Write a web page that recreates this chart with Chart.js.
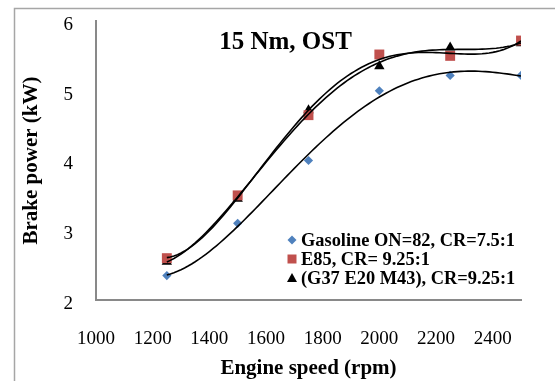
<!DOCTYPE html>
<html><head><meta charset="utf-8">
<script src="https://cdn.jsdelivr.net/npm/chart.js@4"></script>
<style>html,body{margin:0;padding:0;background:#fff}#wrap{width:555px;height:381px;position:relative}</style>
</head><body><div id="wrap"><canvas id="c"></canvas></div>
<script>
const engineSpeed = [1250, 1500, 1750, 2000, 2250, 2500];
const gasoline = [2.35, 3.1, 4.0, 5.0, 5.22, 5.22];
const e85 = [2.6, 3.5, 4.65, 5.52, 5.5, 5.72];
const g37 = [2.55, 3.45, 4.72, 5.35, 5.62, 5.68];
const seriesLabels = ['Gasoline ON=82, CR=7.5:1', 'E85, CR= 9.25:1', '(G37 E20 M43), CR=9.25:1'];
const seriesColors = ['#4F81BD', '#C0504D', '#000000'];
const seriesStyles = ['rectRot', 'rect', 'triangle'];
const xTicks = [1000, 1200, 1400, 1600, 1800, 2000, 2200, 2400];
const yTicks = [2, 3, 4, 5, 6];
const chartTitle = '15 Nm, OST';
const xTitle = 'Engine speed (rpm)';
const yTitle = 'Brake power (kW)';
const trendOrder = 4;

// Polynomial least-squares trendline, as in the original spreadsheet chart
function polyfit(xs, ys, order) {
  const cx = 1875, sx = 625;
  const n = order + 1;
  const A = Array.from({length: n}, () => new Array(n + 1).fill(0));
  xs.forEach((x, k) => {
    const t = (x - cx) / sx;
    for (let i = 0; i < n; i++) {
      for (let j = 0; j < n; j++) A[i][j] += Math.pow(t, i + j);
      A[i][n] += ys[k] * Math.pow(t, i);
    }
  });
  for (let i = 0; i < n; i++) {
    let p = i;
    for (let r = i + 1; r < n; r++) if (Math.abs(A[r][i]) > Math.abs(A[p][i])) p = r;
    [A[i], A[p]] = [A[p], A[i]];
    for (let r = 0; r < n; r++) {
      if (r === i) continue;
      const f = A[r][i] / A[i][i];
      for (let c = i; c <= n; c++) A[r][c] -= f * A[i][c];
    }
  }
  const coef = A.map((row, i) => row[n] / row[i]);
  return x => { const t = (x - cx) / sx; return coef.reduce((s, c, i) => s + c * Math.pow(t, i), 0); };
}
function trend(ys) {
  const f = polyfit(engineSpeed, ys, trendOrder);
  const pts = [];
  const x0 = engineSpeed[0], x1 = engineSpeed[engineSpeed.length - 1];
  for (let i = 0; i <= 100; i++) { const x = x0 + (x1 - x0) * i / 100; pts.push({x, y: f(x)}); }
  return pts;
}
const series = [gasoline, e85, g37];
const datasets = [];
series.forEach((ys, i) => {
  datasets.push({
    label: seriesLabels[i],
    data: engineSpeed.map((x, k) => ({x, y: ys[k]})),
    showLine: false,
    pointStyle: seriesStyles[i],
    pointRadius: [4.6, 7, 6][i],
    pointBackgroundColor: seriesColors[i],
    pointBorderColor: seriesColors[i],
    pointBorderWidth: 0,
    order: 2
  });
});
series.forEach((ys, i) => {
  datasets.push({
    label: 'trend' + i,
    data: trend(ys),
    showLine: true,
    pointRadius: 0,
    borderColor: '#000',
    borderWidth: 1.6,
    fill: false,
    order: 1
  });
});

const FONT = '"Liberation Serif", "Times New Roman", serif';
const deco = {
  id: 'deco',
  beforeDraw(chart) {
    const ctx = chart.ctx;
    ctx.save();
    ctx.fillStyle = '#fff';
    ctx.fillRect(0, 0, chart.width, chart.height);
    ctx.strokeStyle = '#A6A6A6';
    ctx.lineWidth = 1.5;
    ctx.strokeRect(14.5, 8.5, 700, 500);
    ctx.restore();
  },
  afterDatasetsDraw(chart) {
    const ctx = chart.ctx;
    ctx.save();
    ctx.fillStyle = '#000';
    ctx.font = 'bold 25px ' + FONT;
    ctx.textAlign = 'center';
    ctx.textBaseline = 'middle';
    ctx.fillText(chartTitle, 285.5, 43);
    // legend
    ctx.font = 'bold 18.4px ' + FONT;
    ctx.textAlign = 'left';
    const rows = [240, 259, 278];
    seriesLabels.forEach((lab, i) => {
      const y = rows[i], x = 292;
      ctx.fillStyle = seriesColors[i];
      ctx.beginPath();
      if (i === 0) { ctx.moveTo(x - 4.5, y); ctx.lineTo(x, y - 4.5); ctx.lineTo(x + 4.5, y); ctx.lineTo(x, y + 4.5); }
      else if (i === 1) { ctx.rect(x - 4.5, y - 4.5, 9, 9); }
      else { ctx.moveTo(x, y - 5); ctx.lineTo(x + 5, y + 4); ctx.lineTo(x - 5, y + 4); }
      ctx.closePath();
      ctx.fill();
      ctx.fillStyle = '#000';
      ctx.fillText(lab, 301, y + 1);
    });
    ctx.restore();
  }
};

new Chart(document.getElementById('c'), {
  type: 'scatter',
  data: {datasets},
  plugins: [deco],
  options: {
    responsive: true,
    maintainAspectRatio: false,
    animation: false,
    layout: {padding: {left: 14, top: 21, right: 34, bottom: 0}},
    plugins: {legend: {display: false}, tooltip: {enabled: false}},
    scales: {
      x: {
        type: 'linear', min: 1000, max: 2500,
        afterBuildTicks: s => { s.ticks = xTicks.map(v => ({value: v})); },
        afterFit: s => { s.height = 81; s.paddingLeft = 0; s.paddingRight = 0; },
        grid: {display: false, drawTicks: false},
        border: {display: true, color: '#898989', width: 2},
        ticks: {color: '#000', padding: 28, font: {family: FONT, size: 19}, callback: v => String(v)},
        title: {display: true, text: xTitle, color: '#000', padding: {top: 3.4, bottom: 0}, font: {family: FONT, size: 21, weight: 'bold'}}
      },
      y: {
        type: 'linear', min: 2, max: 6,
        afterBuildTicks: s => { s.ticks = yTicks.map(v => ({value: v})); },
        afterFit: s => { s.width = 82; s.paddingTop = 0; s.paddingBottom = 0; },
        grid: {display: false, drawTicks: false},
        border: {display: true, color: '#898989', width: 2},
        ticks: {color: '#000', padding: 23, labelOffset: 4, font: {family: FONT, size: 19}, callback: v => String(v)},
        title: {display: true, text: yTitle, color: '#000', padding: {top: 5, bottom: 0}, font: {family: FONT, size: 21, weight: 'bold'}}
      }
    }
  }
});
</script></body></html>
